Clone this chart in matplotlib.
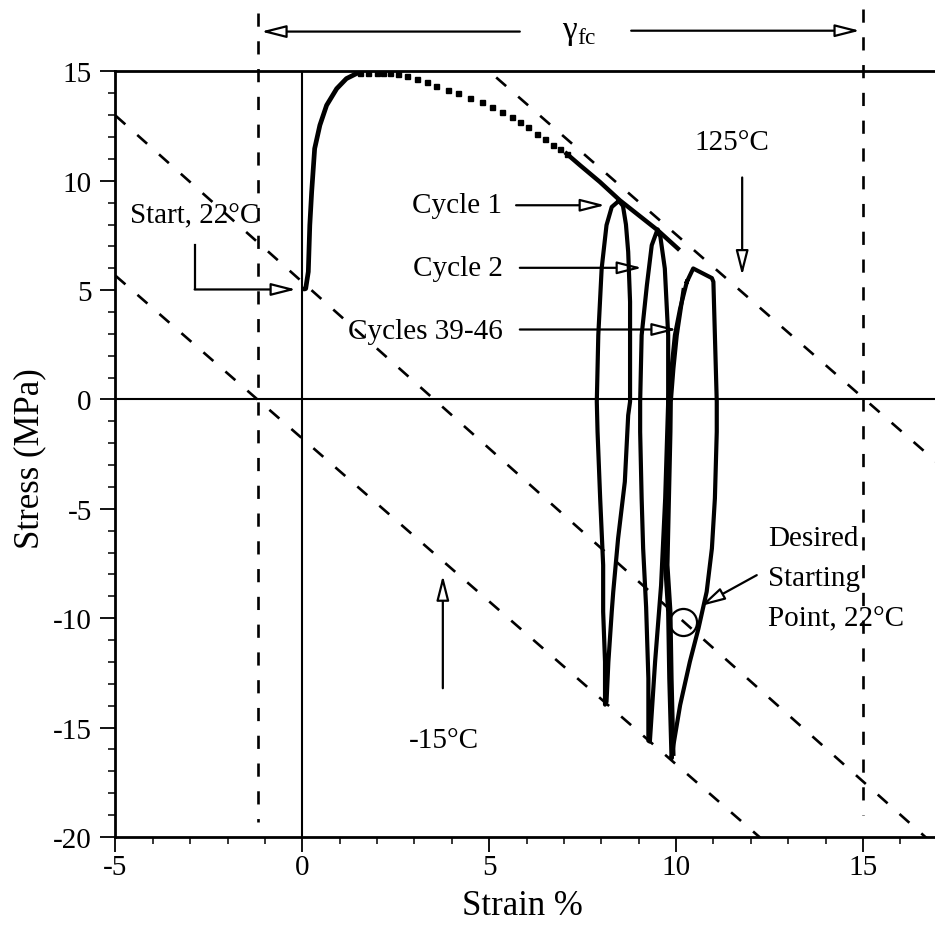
import matplotlib
matplotlib.use('Agg')
import matplotlib.pyplot as plt
from matplotlib.ticker import MultipleLocator

plt.rcParams['font.family'] = 'Liberation Serif'
plt.rcParams['axes.unicode_minus'] = False
plt.rcParams['mathtext.fontset'] = 'custom'
plt.rcParams['mathtext.rm'] = 'Liberation Serif'
plt.rcParams['lines.scale_dashes'] = False

# ---- data (strain %, stress MPa) ----
# first loading: solid rise from the start point
rise_x = [0.05, 0.09, 0.16, 0.20, 0.25, 0.33, 0.47, 0.65, 0.92, 1.18, 1.45, 1.54]
rise_y = [5.05, 5.07, 5.84, 7.97, 9.49, 11.47, 12.54, 13.45, 14.21, 14.67, 14.90, 14.94]

# dotted part (sparse samples)
dot_x = [1.54, 1.76, 1.99, 2.16, 2.34, 2.56, 2.79, 3.06, 3.33, 3.59, 3.90, 4.17, 4.48,
         4.80, 5.07, 5.33, 5.60, 5.82, 6.05, 6.27, 6.49, 6.71, 6.89, 7.07]
dot_y = [14.94, 14.94, 14.94, 14.94, 14.93, 14.90, 14.79, 14.64, 14.52, 14.34, 14.17,
         13.99, 13.79, 13.61, 13.38, 13.15, 12.92, 12.69, 12.46, 12.16, 11.93, 11.65,
         11.47, 11.24]

# solid part along the 125C line
slide_x = [7.07, 7.43, 7.96, 8.50, 9.50, 10.05]
slide_y = [11.24, 10.71, 9.95, 9.10, 7.75, 6.90]

# thermal cycles
cyc1_x = [8.47, 8.58, 8.66, 8.72, 8.77, 8.77, 8.72, 8.63, 8.45, 8.32, 8.28, 8.19, 8.14,
          8.10, 8.10, 8.05, 8.05, 7.97, 7.90, 7.88, 7.92, 8.01, 8.14, 8.28, 8.47]
cyc1_y = [9.08, 8.85, 8.00, 6.75, 4.47, -0.10, -0.72, -3.76, -6.35, -8.79, -9.70,
          -11.99, -13.82, -13.95, -11.99, -9.70, -7.57, -4.52, -1.48, -0.10, 2.94, 5.99,
          7.97, 8.80, 9.08]

cyc2_x = [9.50, 9.58, 9.70, 9.79, 9.79, 9.71, 9.60, 9.44, 9.30, 9.26, 9.26, 9.20, 9.12,
          9.08, 9.04, 9.04, 9.08, 9.22, 9.35, 9.50]
cyc2_y = [7.75, 7.45, 5.99, 2.94, -0.10, -4.52, -8.50, -11.99, -15.64, -15.60, -12.75,
          -9.50, -6.81, -4.52, -1.48, -0.10, 2.94, 5.22, 7.05, 7.75]

cyc39_x = [10.29, 10.46, 10.96, 11.00, 11.04, 11.09, 11.09, 11.04, 10.96, 10.82, 10.60,
           10.37, 10.11, 9.93, 9.88, 9.82, 9.79, 9.71, 9.75, 9.79, 9.79, 9.88, 9.97,
           10.11, 10.29]
cyc39_y = [5.38, 5.99, 5.55, 5.38, 2.94, -0.10, -1.48, -4.52, -6.81, -8.79, -10.47,
           -11.99, -13.97, -15.80, -16.41, -12.75, -9.70, -7.57, -4.52, -1.48, -0.10,
           1.42, 2.94, 4.16, 5.38]

cyc46_x = [10.20, 10.02, 9.93, 9.86, 9.85, 9.81, 9.77, 9.85, 9.88, 9.93]
cyc46_y = [5.00, 2.94, 1.42, -0.10, -1.48, -4.52, -7.57, -9.70, -12.75, -16.20]

# isotherm guide lines (end points)
iso125_x = [4.6, 17.0]
iso125_y = [15.6, -2.9]
iso22_x = [-5.0, 17.0]
iso22_y = [12.98, -20.5]
isom15_x = [-5.0, 12.5]
isom15_y = [5.66, -20.4]

gamma_left = -1.18
gamma_right = 15.0

x_ticks = [-5, 0, 5, 10, 15]
y_ticks = [15, 10, 5, 0, -5, -10, -15, -20]

FS = 21

fig = plt.figure(figsize=(9.35, 9.28), dpi=100)
ax = fig.add_axes([0.1235, 0.097, 0.8765, 0.825])
ax.set_xlim(-5, 16.93)
ax.set_ylim(-20, 15)

# frame
ax.spines['right'].set_visible(False)
for s in ['left', 'top', 'bottom']:
    ax.spines[s].set_linewidth(2.0)
ax.set_xticks(x_ticks)
ax.set_yticks(y_ticks)
ax.xaxis.set_minor_locator(MultipleLocator(1))
ax.yaxis.set_minor_locator(MultipleLocator(1))
ax.tick_params(which='major', direction='out', length=11, width=1.3, labelsize=FS)
ax.tick_params(which='minor', direction='out', length=5, width=1.1)
ax.tick_params(axis='x', which='major', pad=1)
ax.tick_params(axis='y', which='major', pad=6)
ax.tick_params(top=False, right=False, which='both')

# zero lines
ax.axhline(0, color='black', lw=1.5, zorder=1)
ax.axvline(0, color='black', lw=1.5, zorder=1)

# isotherms
for xs, ys in [(iso125_x, iso125_y), (iso22_x, iso22_y), (isom15_x, isom15_y)]:
    ax.plot(xs, ys, color='black', lw=1.9, dashes=(9.5, 11.5), zorder=2)

# gamma_fc limits
ax.plot([gamma_left, gamma_left], [17.65, -19.3], color='black', lw=1.9,
        dashes=(9.5, 10.5), clip_on=False, zorder=2)
ax.plot([gamma_right, gamma_right], [17.85, -19.0], color='black', lw=1.9,
        dashes=(9.5, 10.5), clip_on=False, zorder=2)

# measured curve
ax.plot(rise_x, rise_y, color='black', lw=3.4, solid_capstyle='round', zorder=4)
ax.plot(dot_x, dot_y, ls='none', marker='s', ms=3.6, color='black', zorder=4)
ax.plot(slide_x, slide_y, color='black', lw=3.2, zorder=4)
ax.plot(cyc1_x, cyc1_y, color='black', lw=3.0, zorder=4)
ax.plot(cyc2_x, cyc2_y, color='black', lw=3.0, zorder=4)
ax.plot(cyc39_x, cyc39_y, color='black', lw=3.0, zorder=4)
ax.plot(cyc46_x, cyc46_y, color='black', lw=3.0, zorder=4)

# desired starting point marker
ax.plot([10.2], [-10.16], marker='o', ms=19.5, mfc='none', mec='black', mew=1.6, zorder=5)

arrow = dict(arrowstyle='-|>,head_length=1.5,head_width=0.38', fc='white', ec='black',
             lw=1.6, shrinkA=0, shrinkB=0, mutation_scale=10)

# gamma_fc span arrow
ax.annotate('', xy=(gamma_left + 0.08, 16.82), xytext=(5.82, 16.82),
            arrowprops=arrow, annotation_clip=False)
ax.annotate('', xy=(gamma_right - 0.08, 16.86), xytext=(8.8, 16.86),
            arrowprops=arrow, annotation_clip=False)
ax.text(7.4, 16.82, r'$\mathrm{\gamma}_{\mathrm{fc}}$', fontsize=FS + 3, ha='center',
        va='center', clip_on=False)

# start annotation
ax.text(-4.61, 8.41, 'Start, 22°C', fontsize=FS, ha='left', va='center')
ax.plot([-2.88, -2.88], [7.08, 5.03], color='black', lw=1.6)
ax.annotate('', xy=(-0.17, 5.03), xytext=(-2.88, 5.03), arrowprops=arrow)

# cycle labels
ax.text(5.33, 8.88, 'Cycle 1', fontsize=FS, ha='right', va='center')
ax.annotate('', xy=(8.1, 8.88), xytext=(5.72, 8.88), arrowprops=arrow)
ax.text(5.38, 6.02, 'Cycle 2', fontsize=FS, ha='right', va='center')
ax.annotate('', xy=(9.09, 6.02), xytext=(5.82, 6.02), arrowprops=arrow)
ax.text(5.37, 3.15, 'Cycles 39-46', fontsize=FS, ha='right', va='center')
ax.annotate('', xy=(10.02, 3.2), xytext=(5.82, 3.2), arrowprops=arrow)

# temperatures
ax.text(11.49, 11.75, '125°C', fontsize=FS, ha='center', va='center')
ax.annotate('', xy=(11.77, 5.67), xytext=(11.77, 10.15), arrowprops=arrow)
ax.text(3.79, -15.58, '-15°C', fontsize=FS, ha='center', va='center')
ax.annotate('', xy=(3.76, -8.04), xytext=(3.76, -13.2), arrowprops=arrow)

# desired starting point
ax.text(12.46, -8.18, 'Desired\nStarting\nPoint, 22°C', fontsize=FS, ha='left',
        va='center', linespacing=1.7)
ax.annotate('', xy=(10.65, -9.45), xytext=(12.16, -8.03), arrowprops=arrow)

# axis titles
fig.text(30 / 935, 1 - 459 / 928, 'Stress (MPa)', fontsize=25, rotation=90,
         ha='center', va='center')
fig.text(522 / 935, 1 - 907 / 928, 'Strain %', fontsize=25, ha='center', va='center')

fig.savefig('out.png', dpi=100)
